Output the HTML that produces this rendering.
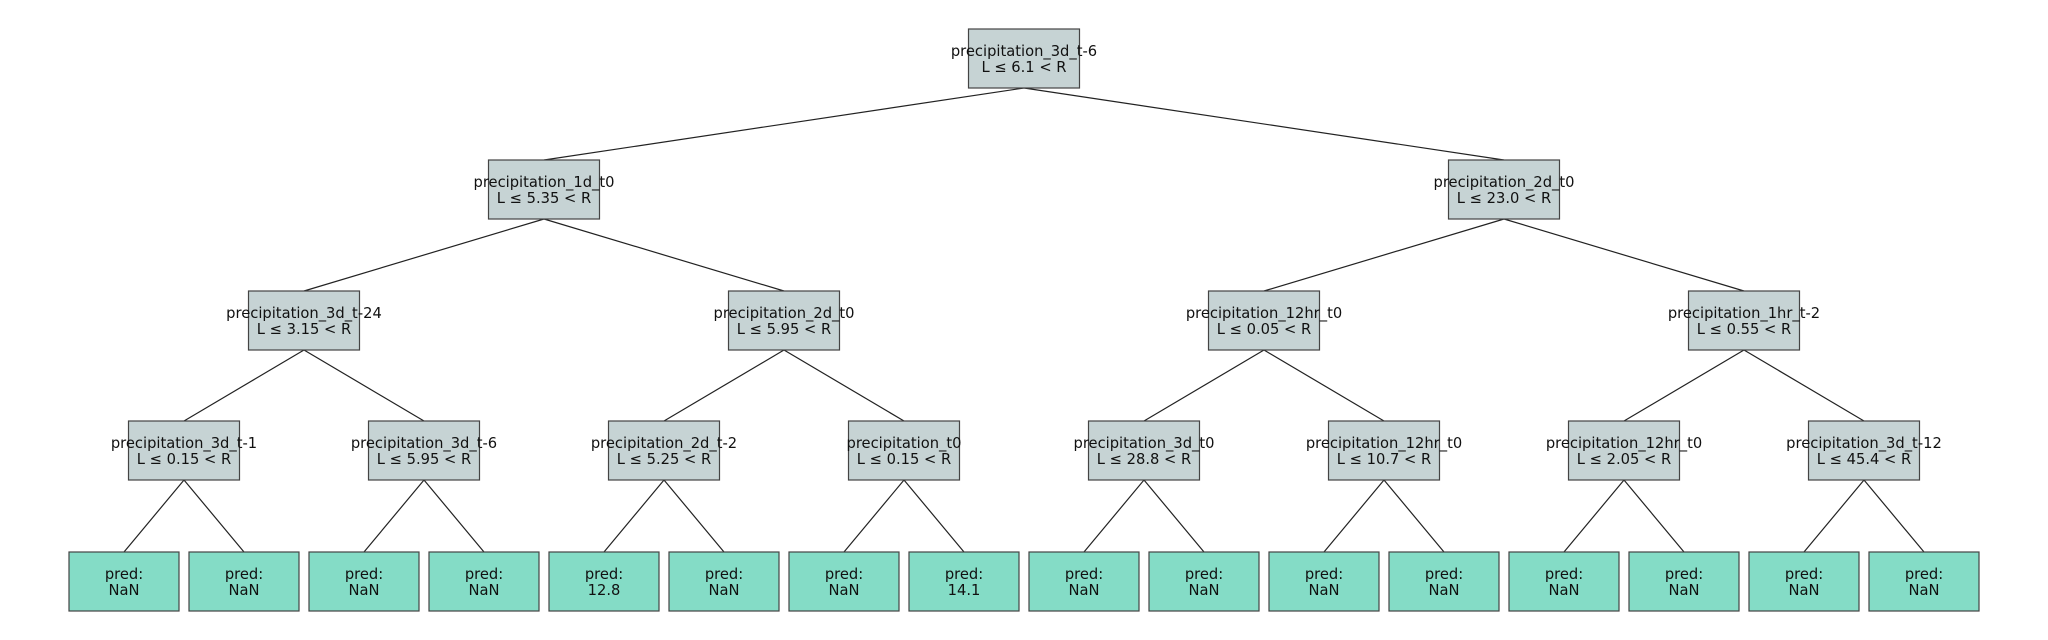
<!DOCTYPE html>
<html><head><meta charset="utf-8"><style>
html,body{margin:0;padding:0;background:#fff;}
svg{display:block;}
text{font-family:"DejaVu Sans","Liberation Sans",sans-serif;font-size:14.7px;fill:#111;}
</style></head><body>
<svg width="2048" height="640" viewBox="0 0 2048 640" xmlns="http://www.w3.org/2000/svg">
<g stroke="#222" stroke-width="1.2">
<line x1="1024" y1="88" x2="544" y2="160"/><line x1="1024" y1="88" x2="1504" y2="160"/>
<line x1="544" y1="219" x2="304" y2="291"/><line x1="544" y1="219" x2="784" y2="291"/>
<line x1="1504" y1="219" x2="1264" y2="291"/><line x1="1504" y1="219" x2="1744" y2="291"/>
<line x1="304" y1="350" x2="184" y2="421"/><line x1="304" y1="350" x2="424" y2="421"/>
<line x1="784" y1="350" x2="664" y2="421"/><line x1="784" y1="350" x2="904" y2="421"/>
<line x1="1264" y1="350" x2="1144" y2="421"/><line x1="1264" y1="350" x2="1384" y2="421"/>
<line x1="1744" y1="350" x2="1624" y2="421"/><line x1="1744" y1="350" x2="1864" y2="421"/>
<line x1="184" y1="480" x2="124" y2="552"/><line x1="184" y1="480" x2="244" y2="552"/>
<line x1="424" y1="480" x2="364" y2="552"/><line x1="424" y1="480" x2="484" y2="552"/>
<line x1="664" y1="480" x2="604" y2="552"/><line x1="664" y1="480" x2="724" y2="552"/>
<line x1="904" y1="480" x2="844" y2="552"/><line x1="904" y1="480" x2="964" y2="552"/>
<line x1="1144" y1="480" x2="1084" y2="552"/><line x1="1144" y1="480" x2="1204" y2="552"/>
<line x1="1384" y1="480" x2="1324" y2="552"/><line x1="1384" y1="480" x2="1444" y2="552"/>
<line x1="1624" y1="480" x2="1564" y2="552"/><line x1="1624" y1="480" x2="1684" y2="552"/>
<line x1="1864" y1="480" x2="1804" y2="552"/><line x1="1864" y1="480" x2="1924" y2="552"/>
</g>
<g id="nodes" stroke="#444" stroke-width="1.2">
<rect x="968.5" y="29" width="111" height="59" fill="#c6d3d4"/>
<rect x="488.5" y="160" width="111" height="59" fill="#c6d3d4"/>
<rect x="1448.5" y="160" width="111" height="59" fill="#c6d3d4"/>
<rect x="248.5" y="291" width="111" height="59" fill="#c6d3d4"/>
<rect x="728.5" y="291" width="111" height="59" fill="#c6d3d4"/>
<rect x="1208.5" y="291" width="111" height="59" fill="#c6d3d4"/>
<rect x="1688.5" y="291" width="111" height="59" fill="#c6d3d4"/>
<rect x="128.5" y="421" width="111" height="59" fill="#c6d3d4"/>
<rect x="368.5" y="421" width="111" height="59" fill="#c6d3d4"/>
<rect x="608.5" y="421" width="111" height="59" fill="#c6d3d4"/>
<rect x="848.5" y="421" width="111" height="59" fill="#c6d3d4"/>
<rect x="1088.5" y="421" width="111" height="59" fill="#c6d3d4"/>
<rect x="1328.5" y="421" width="111" height="59" fill="#c6d3d4"/>
<rect x="1568.5" y="421" width="111" height="59" fill="#c6d3d4"/>
<rect x="1808.5" y="421" width="111" height="59" fill="#c6d3d4"/>
<rect x="69" y="552" width="110" height="59" fill="#84dcc6"/>
<rect x="189" y="552" width="110" height="59" fill="#84dcc6"/>
<rect x="309" y="552" width="110" height="59" fill="#84dcc6"/>
<rect x="429" y="552" width="110" height="59" fill="#84dcc6"/>
<rect x="549" y="552" width="110" height="59" fill="#84dcc6"/>
<rect x="669" y="552" width="110" height="59" fill="#84dcc6"/>
<rect x="789" y="552" width="110" height="59" fill="#84dcc6"/>
<rect x="909" y="552" width="110" height="59" fill="#84dcc6"/>
<rect x="1029" y="552" width="110" height="59" fill="#84dcc6"/>
<rect x="1149" y="552" width="110" height="59" fill="#84dcc6"/>
<rect x="1269" y="552" width="110" height="59" fill="#84dcc6"/>
<rect x="1389" y="552" width="110" height="59" fill="#84dcc6"/>
<rect x="1509" y="552" width="110" height="59" fill="#84dcc6"/>
<rect x="1629" y="552" width="110" height="59" fill="#84dcc6"/>
<rect x="1749" y="552" width="110" height="59" fill="#84dcc6"/>
<rect x="1869" y="552" width="110" height="59" fill="#84dcc6"/>
</g>
<g text-anchor="middle">
<text x="1024" y="56">precipitation_3d_t-6</text><text x="1024" y="72">L ≤ 6.1 &lt; R</text>
<text x="544" y="187">precipitation_1d_t0</text><text x="544" y="203">L ≤ 5.35 &lt; R</text>
<text x="1504" y="187">precipitation_2d_t0</text><text x="1504" y="203">L ≤ 23.0 &lt; R</text>
<text x="304" y="318">precipitation_3d_t-24</text><text x="304" y="334">L ≤ 3.15 &lt; R</text>
<text x="784" y="318">precipitation_2d_t0</text><text x="784" y="334">L ≤ 5.95 &lt; R</text>
<text x="1264" y="318">precipitation_12hr_t0</text><text x="1264" y="334">L ≤ 0.05 &lt; R</text>
<text x="1744" y="318">precipitation_1hr_t-2</text><text x="1744" y="334">L ≤ 0.55 &lt; R</text>
<text x="184" y="448">precipitation_3d_t-1</text><text x="184" y="464">L ≤ 0.15 &lt; R</text>
<text x="424" y="448">precipitation_3d_t-6</text><text x="424" y="464">L ≤ 5.95 &lt; R</text>
<text x="664" y="448">precipitation_2d_t-2</text><text x="664" y="464">L ≤ 5.25 &lt; R</text>
<text x="904" y="448">precipitation_t0</text><text x="904" y="464">L ≤ 0.15 &lt; R</text>
<text x="1144" y="448">precipitation_3d_t0</text><text x="1144" y="464">L ≤ 28.8 &lt; R</text>
<text x="1384" y="448">precipitation_12hr_t0</text><text x="1384" y="464">L ≤ 10.7 &lt; R</text>
<text x="1624" y="448">precipitation_12hr_t0</text><text x="1624" y="464">L ≤ 2.05 &lt; R</text>
<text x="1864" y="448">precipitation_3d_t-12</text><text x="1864" y="464">L ≤ 45.4 &lt; R</text>
<text x="124" y="579">pred:</text><text x="124" y="595">NaN</text>
<text x="244" y="579">pred:</text><text x="244" y="595">NaN</text>
<text x="364" y="579">pred:</text><text x="364" y="595">NaN</text>
<text x="484" y="579">pred:</text><text x="484" y="595">NaN</text>
<text x="604" y="579">pred:</text><text x="604" y="595">12.8</text>
<text x="724" y="579">pred:</text><text x="724" y="595">NaN</text>
<text x="844" y="579">pred:</text><text x="844" y="595">NaN</text>
<text x="964" y="579">pred:</text><text x="964" y="595">14.1</text>
<text x="1084" y="579">pred:</text><text x="1084" y="595">NaN</text>
<text x="1204" y="579">pred:</text><text x="1204" y="595">NaN</text>
<text x="1324" y="579">pred:</text><text x="1324" y="595">NaN</text>
<text x="1444" y="579">pred:</text><text x="1444" y="595">NaN</text>
<text x="1564" y="579">pred:</text><text x="1564" y="595">NaN</text>
<text x="1684" y="579">pred:</text><text x="1684" y="595">NaN</text>
<text x="1804" y="579">pred:</text><text x="1804" y="595">NaN</text>
<text x="1924" y="579">pred:</text><text x="1924" y="595">NaN</text>
</g>
</svg>
</body></html>
